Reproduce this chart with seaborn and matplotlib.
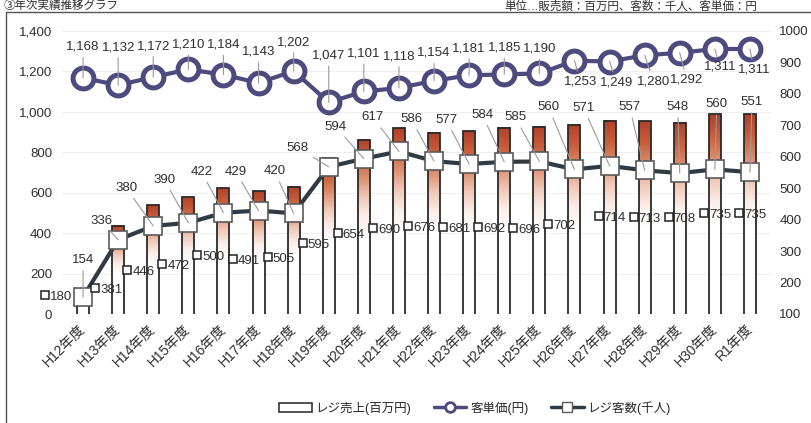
import numpy as np
import pandas as pd
import matplotlib
matplotlib.use("Agg")
import matplotlib.pyplot as plt
import matplotlib.transforms as mtransforms
import seaborn as sns
from matplotlib.lines import Line2D
from matplotlib.patches import Patch
from matplotlib.colors import LinearSegmentedColormap
import matplotlib.ticker as mticker

# ---- data ----------------------------------------------------------------
years = ["H12年度", "H13年度", "H14年度", "H15年度", "H16年度", "H17年度", "H18年度",
         "H19年度", "H20年度", "H21年度", "H22年度", "H23年度", "H24年度", "H25年度",
         "H26年度", "H27年度", "H28年度", "H29年度", "H30年度", "R1年度"]
register_sales = [180, 381, 446, 472, 500, 491, 505, 595, 654, 690,
                  676, 681, 692, 696, 702, 714, 713, 708, 735, 735]      # 百万円
unit_price = [1168, 1132, 1172, 1210, 1184, 1143, 1202, 1047, 1101, 1118,
              1154, 1181, 1185, 1190, 1253, 1249, 1280, 1292, 1311, 1311]  # 円
customers = [154, 336, 380, 390, 422, 429, 420, 568, 594, 617,
             586, 577, 584, 585, 560, 571, 557, 548, 560, 551]           # 千人

left_ticks = [0, 200, 400, 600, 800, 1000, 1200, 1400]
right_ticks = [100, 200, 300, 400, 500, 600, 700, 800, 900, 1000]

# ---- label placement (pixel offsets) ---------------------------------------
price_label_dy = [31, 38, 31, 25, 30, 31, 29, 47, 38, 32, 28, 27, 27, 25,
                  -21, -21, -26, -27, -18, -21]
price_label_dx = [0] * 14 + [6, 7, 9, 7, 5, 4]
cust_label_off = [(0, 37), (-17, 19), (-27, 38), (-24, 43), (-22, 41), (-23, 39),
                  (-19, 42), (-31, 19), (-28, 32), (-26, 34), (-23, 42), (-23, 44),
                  (-22, 47), (-24, 44), (-26, 62), (-26, 58), (-15, 63), (-2, 66),
                  (2, 65), (2, 70)]
sales_key_dx = [-38, -23] + [-26] * 13 + [-11] * 5
sales_key_dy = [6, -18, -10, -8, -4, -6, -7, -7, -6, -7, -3, -4, -6, -8, -5,
                1, 1, 1, 1.5, 1.5]

# ---- styles ----------------------------------------------------------------
PRICE_COL = "#4d4a7e"
CUST_LINE = "#2f3a42"
CUST_EDGE = "#5a5a5a"
TEXT_COL = "#2e2e2e"
LEAD_COL = "#9a9a9a"

sns.set_theme(style="white")
plt.rcParams["font.family"] = ["Liberation Sans", "Noto Sans CJK JP"]
plt.rcParams["axes.unicode_minus"] = False

W, H = 812, 423
fig = plt.figure(figsize=(W / 100, H / 100), dpi=100)
ax = fig.add_axes([62 / W, 109 / H, 709 / W, 283 / H])
ax2 = ax.twinx()

n = len(years)
pos = np.arange(n)
df = pd.DataFrame({"year": years, "sales": register_sales,
                   "price": unit_price, "customers": customers, "pos": pos})

# faint horizontal guides on the left scale
ax.grid(axis="y", color="#eeeeee", linewidth=0.8)
ax.set_axisbelow(True)

# sales bars (outline) on the right scale
sns.barplot(data=df, x="year", y="sales", ax=ax2, width=0.34, fill=False,
            color="#2a2a2a", linewidth=1.3, errorbar=None, zorder=3)

# colour fade inside each bar, dark at the top fading to white
fade = LinearSegmentedColormap.from_list(
    "fade", ["#b0412a", "#c85f3c", "#dd8e6e", "#f0c8b7", "#fbeee9", "#ffffff"])
bars = list(ax2.patches)
for p in bars:
    x0, w, top = p.get_x(), p.get_width(), p.get_height()
    t = np.linspace(0, 1, 256)
    vals = np.clip(t / 0.55, 0, 1).reshape(-1, 1)
    ax2.imshow(vals, cmap=fade, vmin=0, vmax=1, extent=[x0, x0 + w, 100, top],
               origin="upper", aspect="auto", zorder=2, interpolation="bilinear")

# customer count line (right scale)
sns.lineplot(data=df, x="pos", y="customers", ax=ax2, color=CUST_LINE,
             linewidth=3.0, marker="s", markersize=13, markerfacecolor="white",
             markeredgecolor=CUST_EDGE, markeredgewidth=1.2, zorder=4)

# average spend per customer line (left scale)
sns.lineplot(data=df, x="pos", y="price", ax=ax, color=PRICE_COL,
             linewidth=3.0, marker="o", markersize=15, markerfacecolor="white",
             markeredgecolor=PRICE_COL, markeredgewidth=3.6, zorder=4)

# ---- value labels ----------------------------------------------------------
for i, v in enumerate(unit_price):
    ax.annotate(f"{v:,}", xy=(i, v), xytext=(price_label_dx[i], price_label_dy[i]),
                textcoords="offset pixels", ha="center", va="center",
                fontsize=9.5, color=TEXT_COL, zorder=6,
                arrowprops=dict(arrowstyle="-", color=LEAD_COL, lw=0.8,
                                shrinkA=1, shrinkB=0))

for i, v in enumerate(customers):
    dx, dy = cust_label_off[i]
    ax2.annotate(f"{v}", xy=(i, v), xytext=(dx, dy), textcoords="offset pixels",
                 ha="center", va="center", fontsize=9.5, color=TEXT_COL, zorder=6,
                 arrowprops=dict(arrowstyle="-", color=LEAD_COL, lw=0.8,
                                 shrinkA=1, shrinkB=0))

for i, v in enumerate(register_sales):
    mid = (v + 100) / 2
    tr = mtransforms.offset_copy(ax2.transData, fig=fig, x=sales_key_dx[i],
                                 y=sales_key_dy[i], units="dots")
    ax2.plot([i], [mid], marker="s", markersize=5.5, markerfacecolor="white",
             markeredgecolor="#222222", markeredgewidth=1.1, transform=tr,
             zorder=6, clip_on=False)
    ax2.annotate(f"{v}", xy=(i, mid), xytext=(sales_key_dx[i] + 5, sales_key_dy[i] - 2),
                 textcoords="offset pixels", ha="left", va="center",
                 fontsize=9.5, color=TEXT_COL, zorder=6)

# ---- axes ------------------------------------------------------------------
ax.set_xlim(-0.6, n - 0.4)
ax.set_ylim(0, 1400)
ax2.set_ylim(100, 1000)
ax.set_yticks(left_ticks)
ax.yaxis.set_major_formatter(mticker.FuncFormatter(lambda v, _: f"{int(v):,}"))
ax2.set_yticks(right_ticks)
ax.set_xticks(pos)
ax.set_xticklabels(years, rotation=45, ha="right", va="center",
                   rotation_mode="anchor", fontsize=10, color=TEXT_COL)
shift = mtransforms.ScaledTranslation(8 / 100, 0, fig.dpi_scale_trans)
for lab in ax.get_xticklabels():
    lab.set_transform(lab.get_transform() + shift)

ax.tick_params(axis="x", length=0, pad=9)
ax.tick_params(axis="y", length=0, pad=7, labelsize=9.5, labelcolor=TEXT_COL)
ax2.tick_params(axis="y", length=0, pad=6, labelsize=9.5, labelcolor=TEXT_COL)
for a in (ax, ax2):
    a.set_xlabel("")
    a.set_ylabel("")
    for s in a.spines.values():
        s.set_visible(False)
ax2.grid(False)

# ---- legend ----------------------------------------------------------------
handles = [
    Patch(facecolor="white", edgecolor="#333333", linewidth=1.2),
    Line2D([], [], color=PRICE_COL, lw=2.5, marker="o", ms=7,
           mfc="white", mec=PRICE_COL, mew=2),
    Line2D([], [], color=CUST_LINE, lw=2.5, marker="s", ms=7,
           mfc="white", mec=CUST_EDGE, mew=1),
]
fig.legend(handles, ["レジ売上(百万円)", "客単価(円)", "レジ客数(千人)"],
           loc="center", bbox_to_anchor=(475 / W, 15 / H), ncol=3, frameon=False,
           fontsize=9, handlelength=2.6, columnspacing=1.8, handletextpad=0.3)

# ---- page frame and headings -------------------------------------------------
fig.add_artist(Line2D([6 / W, 1], [1 - 12.5 / H] * 2, transform=fig.transFigure,
                      color="#555555", lw=1.0))
fig.add_artist(Line2D([6 / W] * 2, [0, 1 - 12.5 / H], transform=fig.transFigure,
                      color="#555555", lw=1.0))
fig.text(4 / W, 1 - 0.3 / H, "③年次実績推移グラフ", ha="left", va="top",
         fontsize=8.3, color=TEXT_COL)
fig.text(757 / W, 1 - 0.3 / H, "単位…販売額：百万円、客数：千人、客単価：円",
         ha="right", va="top", fontsize=8.3, color=TEXT_COL)

fig.savefig("out.png", dpi=100, facecolor="white")
